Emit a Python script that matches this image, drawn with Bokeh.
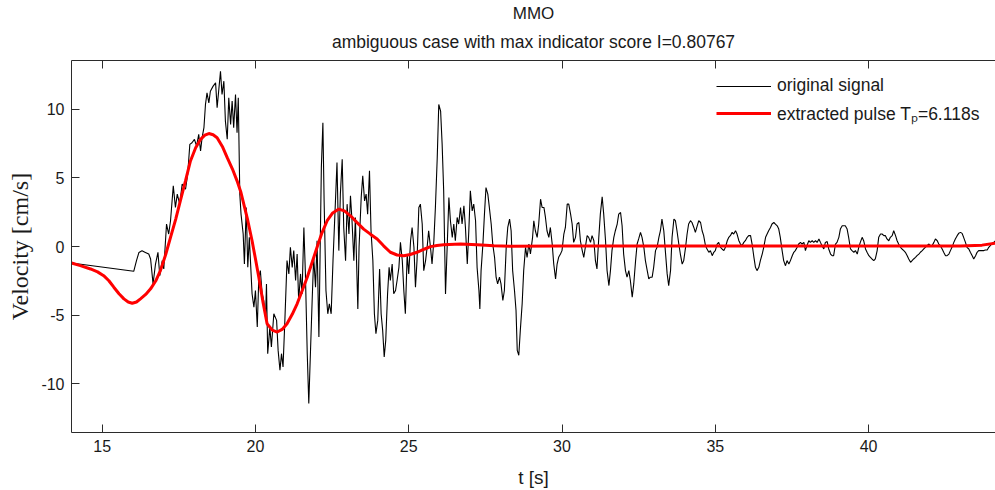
from bokeh.plotting import figure
from bokeh.models import Range1d, LinearAxis, Title, Legend, LegendItem, FixedTicker
from bokeh.embed import file_html
from bokeh.resources import INLINE

# ---- data ----
t_signal = [14.00, 16.03, 16.12, 16.20, 16.30, 16.41, 16.52, 16.58, 16.66, 16.74, 16.82, 16.88, 16.96, 17.01,
            17.10, 17.17, 17.23, 17.32, 17.39, 17.45, 17.53, 17.61, 17.72, 17.79, 17.86, 17.93, 18.01, 18.08,
            18.15, 18.21, 18.26, 18.32, 18.37, 18.42, 18.48, 18.53, 18.62, 18.70, 18.75, 18.80, 18.86, 18.91,
            18.97, 19.02, 19.08, 19.13, 19.19, 19.24, 19.29, 19.35, 19.40, 19.44, 19.49, 19.53, 19.60, 19.64,
            19.70, 19.75, 19.80, 19.89, 19.95, 20.00, 20.06, 20.11,
            20.16, 20.22, 20.27, 20.33, 20.36, 20.40, 20.47, 20.52, 20.60, 20.69, 20.74, 20.80, 20.85, 20.90,
            20.96, 21.03, 21.09, 21.14, 21.20, 21.25, 21.31, 21.36, 21.41, 21.47, 21.52, 21.58, 21.63, 21.69,
            21.74, 21.80, 21.85, 21.90, 21.96, 22.01, 22.07, 22.12, 22.15, 22.20, 22.24, 22.30, 22.36, 22.41,
            22.47, 22.53, 22.61, 22.66, 22.72, 22.77, 22.83, 22.88, 22.94, 22.99, 23.05, 23.10, 23.15, 23.21,
            23.26, 23.34, 23.38, 23.45, 23.50, 23.56, 23.61, 23.66, 23.72, 23.77, 23.83, 23.88, 23.93, 23.99,
            24.05, 24.10, 24.15, 24.20, 24.25, 24.31, 24.36, 24.40, 24.46, 24.51, 24.57, 24.62, 24.68, 24.73,
            24.79, 24.84, 24.89, 24.95, 25.00, 25.06, 25.11, 25.17, 25.22, 25.27, 25.33,
            25.38, 25.44, 25.49, 25.55, 25.60, 25.65, 25.71, 25.76, 25.82, 25.87, 25.93, 25.98, 26.04, 26.09,
            26.14, 26.20, 26.25, 26.31, 26.36, 26.42, 26.47, 26.52, 26.58, 26.63, 26.69, 26.74, 26.80, 26.85,
            26.91, 26.96, 27.01, 27.07, 27.12, 27.18, 27.23, 27.29, 27.32, 27.36, 27.42, 27.47, 27.52, 27.58,
            27.63, 27.69, 27.74, 27.80, 27.85, 27.90, 27.96, 28.01, 28.07, 28.12, 28.18, 28.23, 28.29, 28.34,
            28.39, 28.45, 28.50, 28.54, 28.59, 28.64, 28.70, 28.75, 28.81, 28.86, 28.92, 28.97, 29.04, 29.08,
            29.13, 29.19, 29.24, 29.30, 29.35, 29.41, 29.46, 29.51, 29.57, 29.62, 29.68, 29.73, 29.79, 29.84,
            29.89, 29.95, 30.00, 30.06, 30.11, 30.17, 30.22, 30.28, 30.33, 30.38, 30.44, 30.49,
            30.55, 30.60, 30.66, 30.71, 30.76, 30.82, 30.87, 30.93, 30.98, 31.04, 31.09, 31.14, 31.20, 31.25,
            31.31, 31.36, 31.42, 31.47, 31.53, 31.58, 31.63, 31.69, 31.74, 31.80, 31.85, 31.91, 31.96, 32.01,
            32.07, 32.12, 32.18, 32.23, 32.29, 32.34, 32.40, 32.45, 32.50, 32.56, 32.61, 32.67, 32.72, 32.78,
            32.83, 32.88, 32.94, 32.99, 33.05, 33.10, 33.16, 33.21, 33.26, 33.32, 33.37, 33.43, 33.48, 33.54,
            33.59, 33.65, 33.70, 33.75, 33.81, 33.86, 33.92, 33.97, 34.03, 34.08, 34.13, 34.19, 34.24, 34.30,
            34.35, 34.41, 34.46, 34.52, 34.57, 34.62, 34.68, 34.73, 34.79, 34.84, 34.90, 34.95, 35.00, 35.06,
            35.11, 35.17, 35.22, 35.28, 35.33, 35.39, 35.44, 35.49, 35.55, 35.60, 35.66, 35.71, 35.77, 35.82,
            35.87, 35.93, 35.98, 36.04, 36.09, 36.15, 36.20, 36.26, 36.31, 36.36, 36.42, 36.47, 36.53, 36.58,
            36.64, 36.69, 36.74, 36.80, 36.85, 36.91, 36.96, 37.02, 37.07, 37.12, 37.18, 37.23, 37.29, 37.34,
            37.40,
            37.45, 37.51, 37.56, 37.61, 37.67, 37.72, 37.78, 37.83, 37.89, 37.94, 37.99, 38.05, 38.10, 38.16,
            38.21, 38.27, 38.32, 38.38, 38.43, 38.48, 38.54, 38.59, 38.65, 38.70, 38.76, 38.81, 38.86, 38.92,
            38.97, 39.03, 39.08, 39.14, 39.19, 39.24, 39.30, 39.35, 39.41, 39.46, 39.52, 39.57, 39.63, 39.68,
            39.73, 39.79, 39.84, 39.90, 39.95, 40.01, 40.06, 40.11, 40.17, 40.22, 40.28, 40.33, 40.39, 40.44,
            40.50, 40.55, 40.60, 40.66, 40.71, 40.77, 40.82, 40.88, 40.93, 40.98, 41.04, 41.09, 41.15, 41.20,
            41.26, 41.31, 41.37, 41.42, 41.47, 41.53, 41.58, 41.64, 41.69, 41.75, 41.80, 41.85, 41.91, 41.96,
            42.02, 42.07, 42.13, 42.18, 42.24, 42.29, 42.34, 42.40, 42.45, 42.51, 42.56, 42.62, 42.67, 42.72,
            42.78, 42.83, 42.89, 42.94, 43.00, 43.05, 43.10, 43.16, 43.21, 43.27, 43.32, 43.38, 43.43, 43.49,
            43.54, 43.59, 43.65, 43.70, 43.76, 43.81, 43.87, 43.92, 43.97, 44.03, 44.08, 44.14]

v_signal = [-1.20, -1.81, -1.03, -0.43, -0.31, -0.43, -0.55, -0.91, -2.73, -1.28, -0.43, -2.13, -1.03, -1.64,
            1.64, 0.91, 1.88, 4.42, 2.85, 3.82, 3.09, 4.55, 4.18, 5.27, 7.45, 7.57, 7.82, 7.33,
            8.18, 6.97, 7.94, 8.67, 10.36, 11.21, 10.48, 11.33, 11.70, 11.94, 10.12, 11.33, 12.78, 11.09,
            12.06, 9.15, 7.82, 10.85, 8.91, 10.61, 8.67, 11.09, 8.30, 10.85, 3.82, 2.36, 0.91, -1.28,
            2.85, -1.52, 0.67, -3.45, -4.42, -3.21, -5.88, -2.24,
            -1.76, -3.46, -3.94, -5.16, -2.73, -7.82, -5.88, -7.33, -4.91, -5.39, -7.58, -9.03, -7.82, -8.79,
            -5.39, -1.03, -2.00, -0.06, -1.52, -0.30, -2.48, -0.55, -3.94, -2.00, -3.46, 1.39, -2.00, -7.82,
            -11.45, -7.33, -3.94, -0.79, -2.97, 0.42, -6.61, 1.15, 5.76, 9.03, 3.33, -3.21, -4.91, -4.18,
            -4.91, -1.03, 3.33, 6.12, -0.30, 3.82, 6.36, 1.39, -1.03, 3.09, 0.91, 3.70, 1.88, -1.03,
            2.12, -4.55, -0.06, 3.58, 5.15, 3.33, 3.82, 2.36, 5.52, 1.15, -1.03, -4.91, -6.36, -5.39,
            -1.64, -4.91, -6.12, -8.06, -6.85, -3.45, -1.52, -2.48, -1.28, -3.45, -3.21, -2.48, -1.52, 0.30,
            -1.03, -3.21, -4.91, -0.55, -2.00, 0.42, 1.39, -0.06, -2.97, -1.03, 2.85,
            3.09, 1.64, -1.76, -1.03, -0.06, 1.15, -0.06, -1.28, 0.42, 2.85, 6.48, 10.36, 9.88, 7.45,
            4.06, -3.46, -0.30, 3.58, 1.88, 0.67, 1.64, 0.42, 2.12, 1.64, 2.85, 1.64, 2.97, 1.39,
            -1.28, 1.15, 4.06, 2.60, 3.09, 1.88, -1.52, -3.21, -4.55, -1.76, 0.18, 2.36, 4.30, 3.82,
            2.85, 1.64, 0.18, -0.79, -2.24, -2.73, -2.24, -2.73, -3.94, -3.21, -0.06, 1.39, 2.00, 1.15,
            -1.76, -3.21, -4.67, -7.58, -7.94, -6.12, -4.18, -1.76, -0.06, -0.79, 0.18, -0.55, 0.67, 1.88,
            1.15, 0.67, 1.64, 3.45, 2.85, 2.85, 2.12, 1.15, 0.67, 1.39, 0.18, -1.28, -2.36, -1.28,
            -0.79, -0.55, -0.30, 0.91, 1.39, 3.09, 3.09, 2.36, 1.64, 0.30, 0.67, 1.64,
            1.75, 0.42, -0.30, -0.79, -0.06, 0.79, 0.67, 0.30, 0.79, 0.42, -1.03, -1.64, 0.67, 2.36,
            3.62, 2.36, 0.42, -1.76, -2.85, -1.76, -0.30, 0.67, 1.15, 1.64, 2.36, 2.48, 1.51, -0.55,
            -1.76, -2.24, -1.76, -2.48, -3.70, -2.73, -1.03, 0.18, 0.55, 1.03, 0.67, -0.06, -1.03, -1.76,
            -2.36, -2.24, -2.24, -1.52, -0.30, -0.06, 0.67, 1.15, 2.00, 1.15, -0.30, -2.00, -2.85, -1.76,
            0.67, 2.00, 1.88, 1.15, 0.18, -0.55, -1.28, -1.03, -0.06, 0.91, 1.64, 1.88, 1.75, 1.39,
            1.03, 1.51, 1.88, 1.75, 1.15, 0.79, 0.06, -0.18, -0.42, -0.30, -0.67, -0.42, -0.30, 0.18,
            0.30, -0.06, -0.18, -0.30, -0.06, 0.42, 0.67, 0.79, 1.03, 0.91, 1.15, 0.91, 0.42, 0.18,
            0.06, 0.30, 0.42, 0.67, 0.79, 0.79, 0.18, -0.79, -1.52, -1.76, -1.52, -1.03, -0.55, -0.06,
            0.67, 0.91, 1.15, 1.39, 1.64, 1.75, 1.64, 1.51, 1.27, 0.67, -0.30, -1.03, -1.40, -1.03,
            -1.28,
            -1.03, -0.67, -0.42, -0.30, -0.06, 0.18, 0.30, 0.18, 0.30, -0.30, 0.06, 0.42, 0.30, 0.42,
            0.30, 0.42, 0.30, 0.55, 0.30, 0.06, -0.18, 0.30, 0.36, -0.18, -0.55, -0.67, -0.67, 0.18,
            0.30, 0.67, 1.27, 1.51, 1.51, 1.51, 1.27, 0.67, -0.18, -0.30, -0.42, -0.30, -0.55, -0.06,
            0.30, 0.67, 0.42, -0.18, -0.42, -0.67, -0.79, -0.91, -1.03, -0.91, -0.30, 0.67, 0.91, 0.91,
            0.79, 0.79, 0.55, 0.42, 0.67, 0.79, 1.15, 0.79, 0.42, 0.18, -0.06, -0.18, -0.30, -0.42,
            -0.67, -0.91, -1.15, -1.03, -0.91, -0.79, -0.67, -0.55, -0.42, -0.30, -0.18, -0.06, 0.06, 0.18,
            0.06, 0.06, 0.30, 0.55, 0.42, 0.18, 0.06, -0.18, -0.42, -0.67, -0.67, -0.55, -0.30, -0.06,
            0.30, 0.55, 0.79, 0.96, 1.03, 0.96, 0.67, 0.30, -0.06, -0.18, -0.42, -0.67, -0.91, -0.67,
            -0.42, -0.30, -0.30, -0.30, -0.30, -0.25, -0.25, -0.06, 0.06, 0.24, 0.30, 0.42]

t_pulse = [14.00, 14.29, 14.62, 14.85, 15.05, 15.22, 15.38, 15.55, 15.71, 15.85, 15.98, 16.12, 16.25, 16.42,
           16.58, 16.75, 16.90, 17.07, 17.23, 17.40, 17.55, 17.72, 17.88, 18.05, 18.21, 18.35, 18.48, 18.62,
           18.75, 18.92, 19.08, 19.25, 19.40, 19.52, 19.62, 19.75, 19.89, 20.00, 20.11, 20.25, 20.38, 20.55,
           20.71, 20.87, 21.03, 21.20, 21.36, 21.52, 21.69, 21.85, 22.01, 22.17, 22.34, 22.52, 22.72, 22.90,
           23.10, 23.30, 23.53, 23.75, 23.97, 24.18, 24.40, 24.62, 24.84, 25.05, 25.27, 25.50, 25.71, 25.92,
           26.14, 26.69, 27.23, 27.78, 28.32, 30.00, 35.00, 40.00, 43.00, 43.70, 44.14]
v_pulse = [-1.20, -1.40, -1.64, -1.85, -2.13, -2.50, -2.97, -3.45, -3.82, -4.05, -4.14, -4.05, -3.82, -3.50,
           -3.09, -2.50, -1.76, -0.60, 0.67, 2.00, 3.33, 4.80, 6.24, 7.20, 7.82, 8.12, 8.24, 8.15,
           7.94, 7.30, 6.48, 5.65, 4.79, 4.00, 3.09, 1.90, 0.42, -0.90, -2.24, -4.10, -5.64, -6.10,
           -6.24, -6.05, -5.64, -4.95, -4.18, -3.25, -2.24, -1.15, -0.06, 1.00, 1.88, 2.45, 2.73, 2.60,
           2.24, 1.78, 1.27, 0.90, 0.55, 0.05, -0.42, -0.62, -0.67, -0.58, -0.42, -0.20, -0.01, 0.08,
           0.13, 0.18, 0.13, 0.06, 0.01, 0.03, 0.03, 0.03, 0.04, 0.10, 0.25]

x_ticks = [15, 20, 25, 30, 35, 40]
y_ticks = [-10, -5, 0, 5, 10]
y_tick_labels = {-10: "-10", -5: "-5", 0: "0", 5: "5", 10: "10"}

title_main = "MMO"
title_sub = "ambiguous case with max indicator score I=0.80767"
label_signal = "original signal"
label_pulse = "extracted pulse T\u209a=6.118s"

AX = "#2b2b2b"
TXT = "#1a1a1a"
SANS = "Liberation Sans"

p = figure(width=995, height=490, output_backend="svg", toolbar_location=None, title=None,
           x_range=Range1d(14.0, 44.14), y_range=Range1d(-13.57, 13.57),
           min_border_left=71, min_border_right=0, min_border_top=60, min_border_bottom=57,
           background_fill_color="white", border_fill_color="white")
p.outline_line_color = None
p.xgrid.visible = False
p.ygrid.visible = False

for ax, ticks in ((p.xaxis[0], x_ticks), (p.yaxis[0], y_ticks)):
    ax.ticker = FixedTicker(ticks=ticks)
    ax.major_tick_in = 8
    ax.major_tick_out = 0
    ax.minor_tick_in = 0
    ax.minor_tick_out = 0
    ax.axis_line_color = AX
    ax.major_tick_line_color = AX
    ax.major_label_text_color = TXT
    ax.major_label_text_font = SANS
    ax.major_label_text_font_size = "16px"
    ax.major_label_standoff = 7
    ax.axis_label_text_font_style = "normal"
    ax.axis_label_text_color = TXT

p.yaxis[0].major_label_overrides = y_tick_labels

p.xaxis.axis_label = "t [s]"
p.xaxis.axis_label_text_font = SANS
p.xaxis.axis_label_text_font_size = "19px"
p.xaxis.axis_label_standoff = 12

p.yaxis.axis_label = "Velocity [cm/s]"
p.yaxis.axis_label_text_font = "Liberation Serif"
p.yaxis.axis_label_text_font_size = "24px"
p.yaxis.axis_label_standoff = 5

top_axis = LinearAxis(ticker=FixedTicker(ticks=x_ticks), major_tick_in=8, major_tick_out=0,
                      minor_tick_in=0, minor_tick_out=0, axis_line_color=AX,
                      major_tick_line_color=AX, major_label_text_font_size="1px",
                      major_label_text_color=None, major_label_text_alpha=0,
                      major_label_standoff=0)
p.add_layout(top_axis, "above")
p.add_layout(Title(text=title_sub, align="center", text_font=SANS, text_font_size="17.5px",
                   text_font_style="normal", text_color=TXT, standoff=17), "above")
p.add_layout(Title(text=title_main, align="center", text_font=SANS, text_font_size="17px",
                   text_font_style="normal", text_color=TXT, standoff=-3, text_line_height=0.9), "above")

r_sig = p.line(t_signal, v_signal, line_color="black", line_width=1.1)
r_pul = p.line(t_pulse, v_pulse, line_color="#ff0000", line_width=3)

legend = Legend(items=[LegendItem(label=label_signal, renderers=[r_sig]),
                       LegendItem(label=label_pulse, renderers=[r_pul])],
                location=(645, 307), border_line_color=None, background_fill_alpha=0,
                glyph_width=55, glyph_height=20, label_height=20, spacing=5,
                padding=0, margin=0, label_standoff=6,
                label_text_font=SANS, label_text_font_size="17.5px", label_text_color=TXT)
p.add_layout(legend)

open("out.html", "w").write(file_html(p, INLINE))
